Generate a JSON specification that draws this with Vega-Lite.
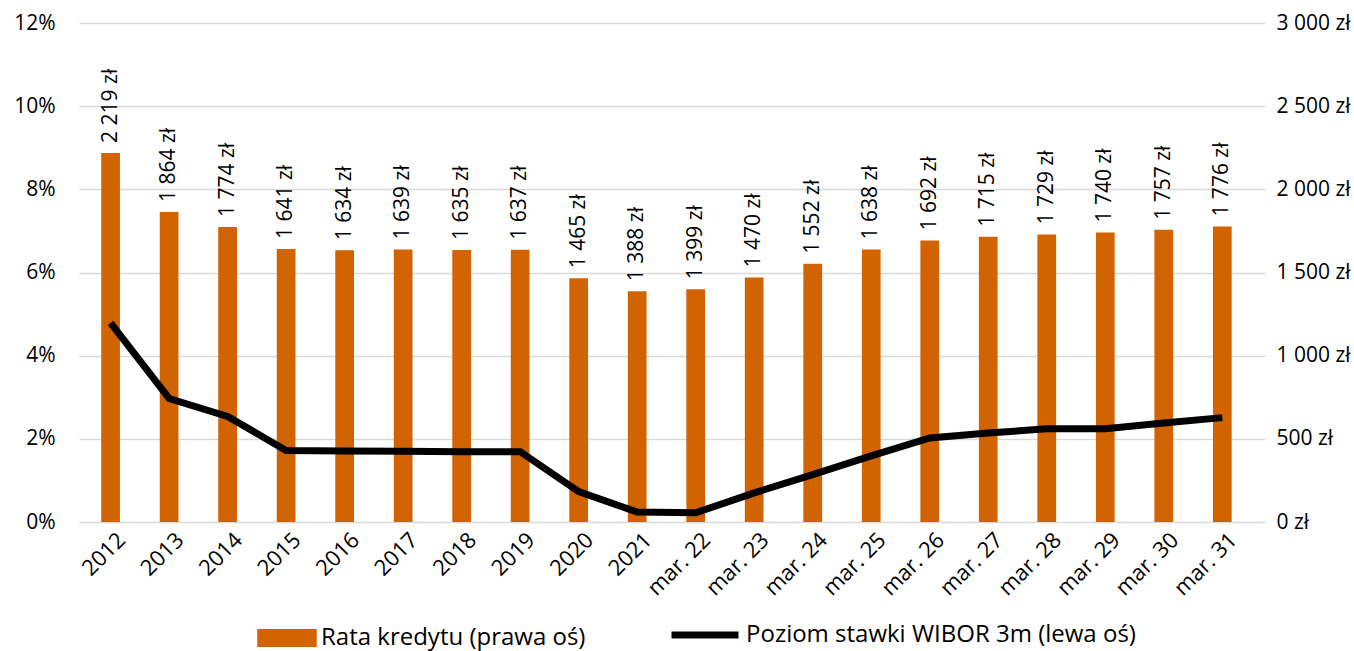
{
  "$schema": "https://vega.github.io/schema/vega-lite/v6.json",
  "width": 1186,
  "height": 499,
  "autosize": {"type": "none"},
  "padding": {"left": 79, "top": 23, "right": 89, "bottom": 129},
  "background": "white",
  "config": {
    "view": {"stroke": null},
    "font": "Open Sans",
    "locale": {"number": {"decimal": ",", "thousands": " ", "grouping": [3], "currency": ["", " zł"]}}
  },
  "data": {
    "values": [
      {"okres": "2012", "rata": 2219, "wibor": 4.79},
      {"okres": "2013", "rata": 1864, "wibor": 2.97},
      {"okres": "2014", "rata": 1774, "wibor": 2.54},
      {"okres": "2015", "rata": 1641, "wibor": 1.72},
      {"okres": "2016", "rata": 1634, "wibor": 1.71},
      {"okres": "2017", "rata": 1639, "wibor": 1.70},
      {"okres": "2018", "rata": 1635, "wibor": 1.69},
      {"okres": "2019", "rata": 1637, "wibor": 1.69},
      {"okres": "2020", "rata": 1465, "wibor": 0.73},
      {"okres": "2021", "rata": 1388, "wibor": 0.24},
      {"okres": "mar. 22", "rata": 1399, "wibor": 0.22},
      {"okres": "mar. 23", "rata": 1470, "wibor": 0.70},
      {"okres": "mar. 24", "rata": 1552, "wibor": 1.14},
      {"okres": "mar. 25", "rata": 1638, "wibor": 1.59},
      {"okres": "mar. 26", "rata": 1692, "wibor": 2.02},
      {"okres": "mar. 27", "rata": 1715, "wibor": 2.14},
      {"okres": "mar. 28", "rata": 1729, "wibor": 2.24},
      {"okres": "mar. 29", "rata": 1740, "wibor": 2.24},
      {"okres": "mar. 30", "rata": 1757, "wibor": 2.38},
      {"okres": "mar. 31", "rata": 1776, "wibor": 2.51}
    ]
  },
  "encoding": {
    "x": {
      "field": "okres",
      "type": "ordinal",
      "sort": null,
      "scale": {"paddingInner": 0.68, "paddingOuter": 0.475, "align": 0.4},
      "axis": {
        "title": null,
        "domain": false,
        "ticks": false,
        "labelAngle": -45,
        "labelFontSize": 22,
        "labelColor": "#000000",
        "labelPadding": 7,
        "labelOffset": 4
      }
    }
  },
  "layer": [
    {
      "layer": [
        {
          "mark": {"type": "bar", "color": "#D16300"},
          "encoding": {
            "y": {
              "field": "rata",
              "type": "quantitative",
              "scale": {"domain": [0, 3000]},
              "axis": {
                "orient": "right",
                "title": null,
                "grid": false,
                "domain": false,
                "ticks": false,
                "values": [0, 500, 1000, 1500, 2000, 2500, 3000],
                "format": "$,.0f",
                "labelFontSize": 21,
                "labelColor": "#000000",
                "labelPadding": 11
              }
            },
            "fill": {
              "datum": "Rata kredytu (prawa oś)",
              "type": "nominal",
              "scale": {"range": ["#D16300"]},
              "legend": {
                "title": null,
                "orient": "none",
                "legendX": 178,
                "legendY": 585,
                "symbolType": "M-1,-0.3H1V0.3H-1Z",
                "symbolSize": 3540,
                "symbolStrokeWidth": 0,
                "labelFontSize": 24,
                "labelColor": "#000000",
                "labelOffset": 4,
                "labelLimit": 0
              }
            }
          }
        },
        {
          "mark": {"type": "text", "angle": 270, "align": "left", "baseline": "middle", "dx": 10, "fontSize": 21, "color": "#000000"},
          "encoding": {
            "y": {"field": "rata", "type": "quantitative"},
            "text": {"field": "rata", "type": "quantitative", "format": "$,.0f"}
          }
        }
      ]
    },
    {
      "mark": {"type": "line", "strokeWidth": 7, "color": "#000000", "strokeJoin": "miter"},
      "encoding": {
        "y": {
          "field": "wibor",
          "type": "quantitative",
          "scale": {"domain": [0, 12]},
          "axis": {
            "orient": "left",
            "title": null,
            "values": [0, 2, 4, 6, 8, 10, 12],
            "labelExpr": "datum.value + '%'",
            "domain": false,
            "ticks": false,
            "grid": true,
            "gridColor": "#D9D9D9",
            "gridWidth": 1.5,
            "labelFontSize": 21,
            "labelColor": "#000000",
            "labelPadding": 24
          }
        },
        "stroke": {
          "datum": "Poziom stawki WIBOR 3m (lewa oś)",
          "type": "nominal",
          "scale": {"range": ["#000000"]},
          "legend": {
            "title": null,
            "orient": "none",
            "legendX": 589,
            "legendY": 575,
            "symbolType": "stroke",
            "symbolSize": 4489,
            "symbolStrokeWidth": 7,
            "labelFontSize": 24,
            "labelColor": "#000000",
            "labelOffset": 4,
            "labelLimit": 0
          }
        }
      }
    }
  ],
  "resolve": {"scale": {"y": "independent", "fill": "independent", "stroke": "independent"}}
}
